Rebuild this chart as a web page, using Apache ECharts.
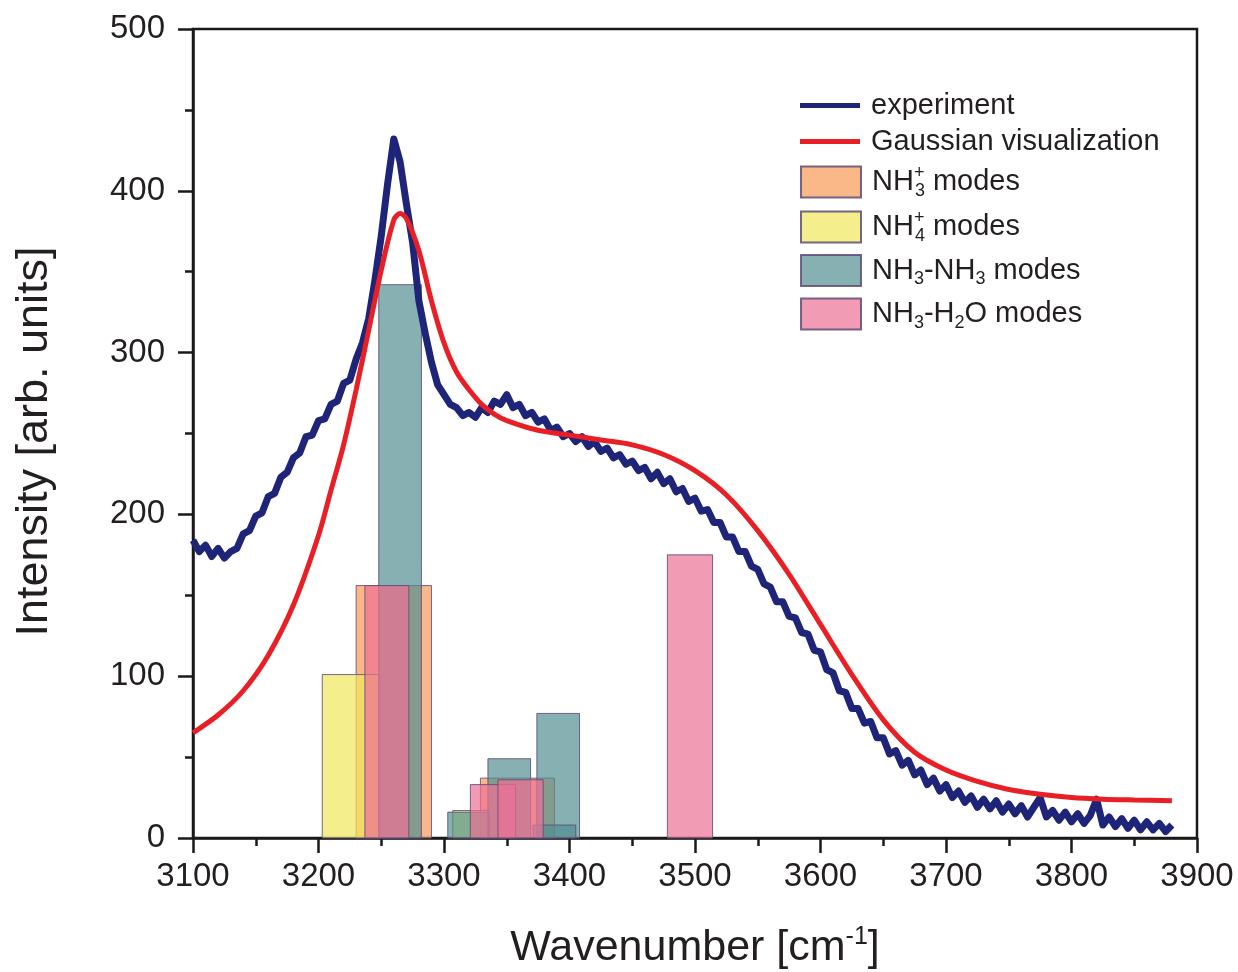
<!DOCTYPE html>
<html>
<head>
<meta charset="utf-8">
<script src="https://cdn.jsdelivr.net/npm/echarts@6/dist/echarts.min.js"></script>
<style>
  html, body { margin: 0; padding: 0; background: #fff; }
  #chart { width: 1238px; height: 972px; }
</style>
</head>
<body>
<div id="chart"></div>
<script>
const xTicks = [3100, 3900, 100];
const yTicks = [0, 500, 100];

// experiment spectrum, sampled every 5 cm-1 starting at 3100
const expStart = 3100;
const expStep = 5;
const experiment = [
  184,177,181,174,179,173,177,179,188,190,
  199,201,211,213,223,226,235,238,248,249,
  258,259,268,270,281,283,296,306,321,345,
  372,404,432,418,392,368,332,312,294,280,
  274,268,266,261,263,260,266,263,270,268,
  274,266,268,261,263,257,259,252,254,248,
  250,245,248,242,245,239,241,235,237,231,
  233,227,229,222,226,219,222,214,216,208,
  210,202,203,195,195,186,186,177,177,168,
  166,157,155,146,146,137,136,127,126,116,
  115,104,102,91,90,80,80,71,72,62,
  62,52,54,45,48,39,42,33,37,29,
  33,25,29,22,26,19,24,18,23,16,
  21,15,20,13,19,25,13,17,11,16,
  10,15,9,14,24,8,13,7,12,6,
  11,5,10,5,9,4,8
];

const gaussX = [3100,3120,3140,3160,3180,3200,3210,3220,3230,3240,3250,3260,3265,3270,3280,3290,3300,3310,3320,3330,3340,3350,3375,3400,3425,3450,3475,3500,3525,3550,3575,3600,3625,3650,3675,3700,3725,3750,3775,3800,3825,3850,3880];
const gaussY = [65,76,91,113,144,187,215,243,277,314,351,382,386,383,363,332,306,288,277,268,262,258,252,249,246,243,237,227,212,190,163,132,101,73,53,42,35,30,27,25,24,23.5,23];

// bars: [from, to, height]
const nh3PlusModes = [[3230, 3290, 156], [3329, 3388, 37]];
const nh4PlusModes = [[3203, 3249, 101], [3307, 3336, 17]];
const nh3nh3Modes = [[3248, 3282, 342], [3303, 3336, 16], [3335, 3369, 49], [3374, 3408, 77], [3371, 3405, 8]];
const nh3h2oModes = [[3237, 3272, 156], [3321, 3357, 33], [3343, 3379, 36], [3478, 3514, 175]];

const legendLabels = {
  'experiment': '{a|experiment}',
  'Gaussian visualization': '{a|Gaussian visualization}',
  'NH3+ modes': '{a|NH}{p|+}{s|3}{a| modes}',
  'NH4+ modes': '{a|NH}{p|+}{s|4}{a| modes}',
  'NH3-NH3 modes': '{a|NH}{s|3}{a|-NH}{s|3}{a| modes}',
  'NH3-H2O modes': '{a|NH}{s|3}{a|-H}{s|2}{a|O modes}'
};

const sans = "'Liberation Sans', Arial, Helvetica, sans-serif";
const ink = '#231f20';
const axisInk = '#1a1a1a';

const expData = experiment.map((v, i) => [expStart + i * expStep, v]);
const gaussData = gaussX.map((x, i) => [x, gaussY[i]]);

const renderBar = (params, api) => {
  const p0 = api.coord([api.value(0), api.value(2)]);
  const p1 = api.coord([api.value(1), 0]);
  return {
    type: 'rect',
    shape: { x: p0[0], y: p0[1], width: p1[0] - p0[0], height: p1[1] - p0[1] },
    style: api.style()
  };
};

const barSeries = (name, data, color) => ({
  name: name,
  type: 'custom',
  renderItem: renderBar,
  data: data,
  encode: { x: [0, 1], y: 2 },
  z: 2,
  itemStyle: { color: color, borderColor: 'rgba(95,75,120,0.85)', borderWidth: 1 }
});

const legendText = {
  color: ink,
  padding: [0, 0, 0, 6],
  rich: {
    a: { fontSize: 29, fontFamily: sans, color: ink, lineHeight: 36 },
    s: { fontSize: 18, fontFamily: sans, color: ink, lineHeight: 15, verticalAlign: 'bottom' },
    p: { fontSize: 18, fontFamily: sans, color: ink, lineHeight: 15, verticalAlign: 'top', width: 1 }
  }
};

const lineIcon = 'path://M0,0 L60,0 L60,5 L0,5 Z';
const tickLabel = v => String(v);

const option = {
  animation: false,
  backgroundColor: '#fff',
  grid: {
    left: 193, right: 41, top: 29, bottom: 134,
    outerBoundsMode: 'none',
    show: true, borderColor: axisInk, borderWidth: 2.5
  },
  legend: [
    {
      data: [
        { name: 'experiment', icon: lineIcon },
        { name: 'Gaussian visualization', icon: lineIcon }
      ],
      orient: 'vertical', left: 800, top: 91, padding: 0, itemWidth: 60, itemHeight: 20, itemGap: 7,
      formatter: name => legendLabels[name],
      textStyle: legendText
    },
    {
      data: ['NH3+ modes', 'NH4+ modes', 'NH3-NH3 modes', 'NH3-H2O modes'],
      orient: 'vertical', left: 800, top: 164, padding: 0, itemWidth: 60, itemHeight: 31, itemGap: 9,
      icon: 'rect',
      formatter: name => legendLabels[name],
      textStyle: legendText
    }
  ],
  xAxis: {
    type: 'value', min: xTicks[0], max: xTicks[1], interval: xTicks[2],
    name: '{n|Wavenumber [cm}{sup|-1}{n|]}',
    nameLocation: 'middle', nameGap: 87,
    nameTextStyle: {
      rich: {
        n: { fontSize: 43, fontFamily: sans, color: ink, lineHeight: 46 },
        sup: { fontSize: 25, fontFamily: sans, color: ink, lineHeight: 24, verticalAlign: 'top' }
      }
    },
    axisLine: { onZero: false, lineStyle: { color: axisInk, width: 2.5 } },
    axisTick: { inside: false, length: 15, lineStyle: { color: axisInk, width: 2.5 } },
    minorTick: { show: true, splitNumber: 2, length: 8, lineStyle: { color: axisInk, width: 2.5 } },
    axisLabel: { fontSize: 33, fontFamily: sans, color: ink, margin: 22, formatter: tickLabel },
    splitLine: { show: false }
  },
  yAxis: {
    type: 'value', min: yTicks[0], max: yTicks[1], interval: yTicks[2],
    name: 'Intensity [arb. units]',
    nameLocation: 'middle', nameGap: 136,
    nameTextStyle: { fontSize: 45, fontFamily: sans, color: ink, padding: [0, 16, 0, 0] },
    axisLine: { onZero: false, lineStyle: { color: axisInk, width: 2.5 } },
    axisTick: { inside: false, length: 15, lineStyle: { color: axisInk, width: 2.5 } },
    minorTick: { show: true, splitNumber: 2, length: 8, lineStyle: { color: axisInk, width: 2.5 } },
    axisLabel: { fontSize: 33, fontFamily: sans, color: ink, margin: 28, formatter: tickLabel },
    splitLine: { show: false }
  },
  series: [
    {
      name: 'experiment', type: 'line', data: expData, showSymbol: false, z: 4,
      lineStyle: { color: '#1e2478', width: 7, join: 'round' }, itemStyle: { color: '#1e2478' }
    },
    {
      name: 'Gaussian visualization', type: 'line', data: gaussData, showSymbol: false, smooth: 0.3, z: 5,
      lineStyle: { color: '#e81f25', width: 5 }, itemStyle: { color: '#e81f25' }
    },
    barSeries('NH3+ modes', nh3PlusModes, 'rgba(247,150,80,0.68)'),
    barSeries('NH4+ modes', nh4PlusModes, 'rgba(241,231,91,0.7)'),
    barSeries('NH3-NH3 modes', nh3nh3Modes, 'rgba(82,142,146,0.7)'),
    barSeries('NH3-H2O modes', nh3h2oModes, 'rgba(236,112,149,0.7)')
  ]
};

const chart = echarts.init(document.getElementById('chart'));
chart.setOption(option);
</script>
</body>
</html>
